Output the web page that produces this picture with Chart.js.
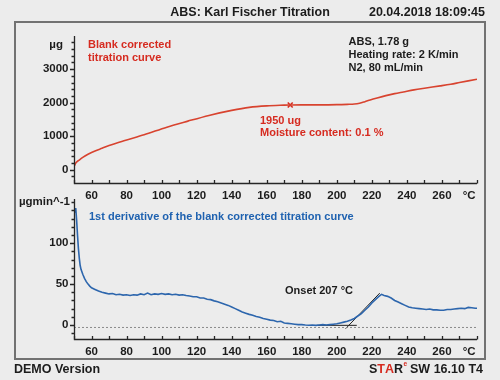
<!DOCTYPE html>
<html><head><meta charset="utf-8">
<script src="https://cdn.jsdelivr.net/npm/chart.js@4.4.1/dist/chart.umd.min.js"></script>
<style>
html,body{margin:0;padding:0;background:#ececec;width:500px;height:380px;overflow:hidden}
#frame{position:absolute;left:14px;top:21px;width:472px;height:339px;border:2px solid #727272;box-sizing:border-box}
canvas{position:absolute;left:0;top:0}
</style></head><body>
<div id="frame"></div>
<canvas id="top" width="500" height="380"></canvas>
<canvas id="bot" width="500" height="380"></canvas>
<script>
// ---- data ----
const TOP_TEMP = [50.3,51,53,55,58,62,66,70,79,90,103,115,127,140,150,160,170,173.4,180,190,200,206,210,213,216,219,223,228,233,238,244,250,259,265,270,275,280];
const TOP_UG   = [120,200,290,370,460,560,640,720,870,1040,1270,1450,1620,1770,1860,1905,1925,1930,1935,1935,1940,1950,1960,1985,2030,2080,2140,2210,2270,2320,2380,2430,2500,2550,2600,2650,2700];
const MARK_TEMP = [173.4];
const MARK_UG = [1930];

const DER_TEMP = [50.6,51,51.5,52,52.5,53,53.5,54,55,56,57,58,59,60,62,64,66,68,70,72,74,76,78,80,82,84,86,88,90,92,94,96,98,100,102,104,106,108,110,112,114,116,118,120,122,124,126,128,130,132,134,136,138,140,142,144,146,148,150,152,154,156,158,160,162,164,166,168,170,172,174,176,178,180,182,184,186,188,190,192,194,196,198,200,202,204,206,208,210,212,214,216,218,220,222,224,225.5,227,229,231,233,235,237,239,241,243,245,247,249,251,253,255,257,259,261,263,265,267,269,271,273,275,277,279,280];
const DER_VAL  = [138,143,128,110,94,82,73,68,62,57,53,50,47.5,45.5,43.5,41.5,40,39,38,38.5,37,37.5,36.5,37,36,37,36.5,38,37,39,37,38,37.5,38.5,37.5,38,37,37.5,36.5,37,36,35.5,34.5,34.5,33,33,31.5,31,29.5,28.5,27,25.5,24,22,20,18,16,14.5,13,12,10.5,9.5,8,7,6,5.5,4,4.5,2.5,2,1.5,1,0.5,0.5,0,-0.3,0,-0.5,0,0.5,0,0.5,1,1.5,2.5,3.5,4.5,6,8,11,14,18,22,27,31,35,37.5,36,35,33,30,28,26,24,22,21,20.5,20,19.5,19,19.5,18.5,18.5,18,18,19,19,19.5,20,20.5,20,21.5,21,20.5,20.5];
const BASE_TEMP = [188.6,211.4];  const BASE_VAL = [-0.4,-0.4];
const TAN_TEMP  = [205,224.5];    const TAN_VAL  = [-4.5,39];
const ZERO_TEMP = [50,280];       const ZERO_VAL = [-3,-3];

const X_LABELS = [60,80,100,120,140,160,180,200,220,240,260];
const TOP_Y_LABELS = [0,1000,2000,3000];
const BOT_Y_LABELS = [0,50,100];

const pts = (xs, ys) => xs.map((x,i)=>({x, y:ys[i]}));
const FONT = '"Liberation Sans", Arial, sans-serif';
const DARK = '#1c1c1c', RED = '#d62b20', BLUE = '#1f62b0';

function txt(ctx, s, x, y, color, size, align){
  ctx.font = 'bold ' + size + 'px ' + FONT;
  ctx.fillStyle = color; ctx.textAlign = align || 'left'; ctx.textBaseline = 'middle';
  ctx.fillText(s, x, y);
}

function axesPlugin(opt){
  return { id:'axes', afterDraw(chart){
    const ctx = chart.ctx, xs = chart.scales.x, ys = chart.scales.y, a = chart.chartArea;
    ctx.save();
    ctx.strokeStyle = '#262626'; ctx.lineWidth = 1.3;
    const L = Math.round(a.left)+0.5, B = Math.round(a.bottom)+0.5;
    ctx.beginPath(); ctx.moveTo(L, a.top); ctx.lineTo(L, B); ctx.lineTo(a.right, B); ctx.stroke();
    ctx.beginPath();
    for (let v = 50; v <= 280; v += 10){
      const px = Math.round(xs.getPixelForValue(v))+0.5;
      ctx.moveTo(px, B); ctx.lineTo(px, B-3.5);
    }
    for (let v = opt.minorFrom; v <= opt.minorTo; v += opt.minorStep){
      const py = Math.round(ys.getPixelForValue(v))+0.5;
      const major = opt.labels.includes(v);
      ctx.moveTo(L, py); ctx.lineTo(L - (major ? 4.5 : 3), py);
    }
    ctx.stroke();
    X_LABELS.forEach(v => txt(ctx, String(v), xs.getPixelForValue(v), B + 12, DARK, 11.5, 'center'));
    txt(ctx, '°C', xs.getPixelForValue(275.5), B + 12, DARK, 11.5, 'center');
    opt.labels.forEach(v => txt(ctx, String(v), L - 6, ys.getPixelForValue(v), DARK, 11.5, 'right'));
    txt(ctx, opt.unit, opt.unitX, opt.unitY, DARK, 11.5, 'right');
    opt.extra(ctx, xs, ys);
    ctx.restore();
  }};
}

const common = (padding, ymin, ymax) => ({
  responsive:false, animation:false, devicePixelRatio:1,
  layout:{padding},
  plugins:{legend:{display:false}, tooltip:{enabled:false}},
  scales:{
    x:{type:'linear', min:50, max:280, display:false},
    y:{type:'linear', min:ymin, max:ymax, display:false}
  },
  elements:{point:{radius:0}, line:{tension:0}}
});

new Chart(document.getElementById('top'), {
  type:'line',
  data:{datasets:[
    {data:pts(TOP_TEMP, TOP_UG), borderColor:'#d8432f', borderWidth:1.6, cubicInterpolationMode:'monotone'},
    {data:pts(MARK_TEMP, MARK_UG), showLine:false, pointStyle:'crossRot', pointRadius:3.5, borderColor:RED, borderWidth:1.6}
  ]},
  options:common({left:74, right:23, top:36, bottom:197}, -395, 3987),
  plugins:[axesPlugin({minorFrom:-200, minorTo:3800, minorStep:200, labels:TOP_Y_LABELS, unit:'µg', unitX:63, unitY:45,
    extra(ctx){
      txt(ctx, 'Blank corrected', 88, 45, RED, 11);
      txt(ctx, 'titration curve', 88, 58, RED, 11);
      txt(ctx, 'ABS, 1.78 g', 348.5, 42, DARK, 11);
      txt(ctx, 'Heating rate: 2 K/min', 348.5, 55, DARK, 11);
      txt(ctx, 'N2, 80 mL/min', 348.5, 68, DARK, 11);
      txt(ctx, '1950 ug', 260, 121, RED, 11);
      txt(ctx, 'Moisture content: 0.1 %', 260, 132.5, RED, 11);
      // page texts
      txt(ctx, 'ABS: Karl Fischer Titration', 250, 12.5, DARK, 12.5, 'center');
      txt(ctx, '20.04.2018 18:09:45', 485, 12.5, DARK, 12.5, 'right');
      txt(ctx, 'DEMO Version', 14, 369.5, DARK, 12.5);
      // STAR logo text
      let x = 369;
      ctx.font = 'bold 12.5px ' + FONT;
      const parts = [['S',DARK],['T',RED],['A',RED],['R',DARK]];
      parts.forEach(p => { txt(ctx, p[0], x, 369.5, p[1], 12.5); x += ctx.measureText(p[0]).width; });
      txt(ctx, 'e', x + 0.5, 364.5, RED, 6.5);
      txt(ctx, 'SW 16.10 T4', x + 7, 369.5, DARK, 12.5);
    }})]
});

new Chart(document.getElementById('bot'), {
  type:'line',
  data:{datasets:[
    {data:pts(ZERO_TEMP, ZERO_VAL), borderColor:'#8a8a8a', borderWidth:1, borderDash:[2,2]},
    {data:pts(DER_TEMP, DER_VAL), borderColor:'#2d66ad', borderWidth:1.6},
    {data:pts(BASE_TEMP, BASE_VAL), borderColor:'#222', borderWidth:1},
    {data:pts(TAN_TEMP, TAN_VAL), borderColor:'#222', borderWidth:1}
  ]},
  options:common({left:74, right:23, top:199, bottom:41}, -17.1, 154),
  plugins:[axesPlugin({minorFrom:-10, minorTo:150, minorStep:10, labels:BOT_Y_LABELS, unit:'µgmin^-1', unitX:70, unitY:202,
    extra(ctx){
      txt(ctx, '1st derivative of the blank corrected titration curve', 89, 216.5, BLUE, 11);
      txt(ctx, 'Onset 207 °C', 285, 291, DARK, 11);
    }})]
});
</script>
</body></html>
